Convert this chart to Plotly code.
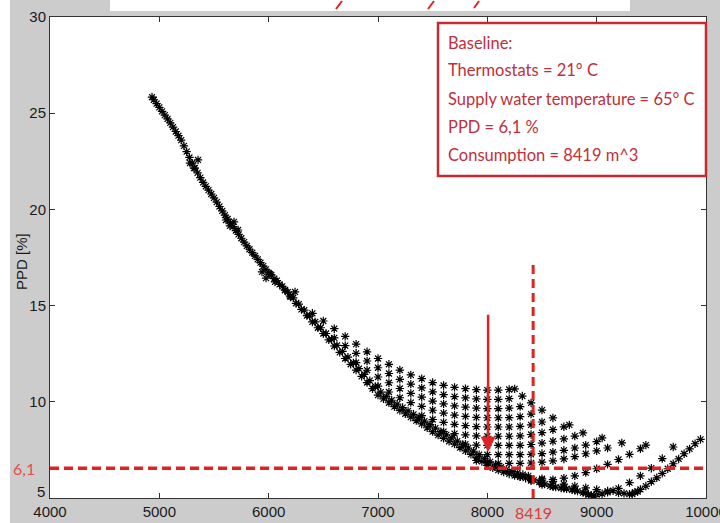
import plotly.graph_objects as go

# ---------------- data ----------------
band_x = [4933, 4950, 5000, 5050, 5100, 5150, 5200, 5250, 5300, 5350, 5400, 5450, 5500, 5550,
          5600, 5650, 5700, 5750, 5800, 5850, 5900, 5950, 6000, 6050, 6100, 6150, 6200, 6250,
          6300, 6350, 6400, 6450, 6500, 6550, 6600, 6650, 6700, 6750, 6800, 6850, 6900, 6950,
          7000, 7050, 7100, 7150, 7200, 7250, 7300, 7350, 7400, 7450, 7500, 7550, 7600, 7650,
          7700, 7750, 7800, 7850, 7900, 7950, 8000, 8050, 8100, 8150, 8200, 8250, 8300, 8350, 8400]
band_y = [25.84, 25.7, 25.3, 24.9, 24.5, 24.05, 23.6, 23.0, 22.4, 21.9, 21.4, 21.0, 20.6, 20.15,
          19.7, 19.3, 18.9, 18.5, 18.1, 17.75, 17.4, 17.05, 16.7, 16.4, 16.1, 15.8, 15.45, 15.12,
          14.8, 14.48, 14.15, 13.85, 13.55, 13.22, 12.9, 12.57, 12.25, 11.95, 11.65, 11.32, 11.0, 10.68,
          10.35, 10.15, 9.95, 9.75, 9.55, 9.38, 9.2, 9.02, 8.85, 8.65, 8.45, 8.27, 8.1, 7.95,
          7.8, 7.62, 7.45, 7.27, 7.1, 6.9, 6.7, 6.57, 6.45, 6.35, 6.25, 6.17, 6.1, 6.03, 5.97]

band2_x = [4975, 5025, 5075, 5125, 5175, 5225, 5275, 5325, 5375, 5425, 5475, 5525, 5575, 5625,
           5675, 5725, 5775, 5825, 5875, 5925, 5975, 6025, 6075, 6125, 6175, 6225, 6275, 6325,
           6375, 6425, 6475, 6525, 6575, 6625, 6675, 6725, 6775, 6825, 6875, 6925, 6975, 7025,
           7075, 7125, 7175, 7225, 7275, 7325, 7375, 7425, 7475, 7525, 7575, 7625, 7675, 7725,
           7775, 7825, 7875, 7925, 7975, 8025, 8075, 8125, 8175, 8225, 8275, 8325, 8375]
band2_y = [25.5, 25.1, 24.7, 24.28, 23.83, 23.3, 22.7, 22.15, 21.65, 21.2, 20.8, 20.38, 19.92, 19.5,
           19.1, 18.7, 18.3, 17.93, 17.58, 17.23, 16.88, 16.6, 16.3, 16.0, 15.7, 15.4, 15.08, 14.76,
           14.45, 14.15, 13.85, 13.55, 13.25, 12.93, 12.62, 12.32, 12.02, 11.72, 11.42, 11.1, 10.8, 10.5,
           10.28, 10.08, 9.88, 9.7, 9.53, 9.35, 9.18, 9.0, 8.81, 8.63, 8.45, 8.28, 8.12, 7.96,
           7.78, 7.6, 7.43, 7.25, 7.06, 6.88, 6.72, 6.6, 6.48, 6.38, 6.3, 6.22, 6.15]

jog_x = [5281, 5317, 5354, 5610, 5646, 5683, 5720, 5939, 5976, 6012, 6058, 6149, 6195, 6241]
jog_y = [22.41, 22.15, 22.57, 19.45, 19.14, 19.35, 18.93, 16.75, 16.43, 16.64, 16.23, 15.81, 15.5, 15.71]

row0_x = [6400, 6500, 6600, 6700, 6800, 6900, 7000, 7100, 7200, 7300, 7400, 7500, 7600, 7700, 7800,
          7900, 8000, 8100, 8200, 8250]
row0_y = [14.6, 14.2, 13.8, 13.4, 13.0, 12.6, 12.25, 11.95, 11.65, 11.4, 11.2, 11.0, 10.85, 10.75, 10.68,
          10.63, 10.61, 10.61, 10.64, 10.67]
row1_x = [6600, 6700, 6800, 6900, 7000, 7100, 7200, 7300, 7400, 7500, 7600, 7700, 7800, 7900, 8000,
          8100, 8200, 8320]
row1_y = [13.32, 12.92, 12.52, 12.12, 11.77, 11.47, 11.17, 10.92, 10.72, 10.52, 10.37, 10.27, 10.2, 10.15, 10.13,
          10.13, 10.16, 10.3]
row2_x = [6800, 6900, 7000, 7100, 7200, 7300, 7400, 7500, 7600, 7700, 7800, 7900, 8000, 8100, 8200,
          8300, 8400]
row2_y = [12.04, 11.64, 11.29, 10.99, 10.69, 10.44, 10.24, 10.04, 9.89, 9.79, 9.72, 9.67, 9.65, 9.65, 9.67,
          9.75, 9.94]
row3_x = [7000, 7100, 7200, 7300, 7400, 7500, 7600, 7700, 7800, 7900, 8000, 8100, 8200, 8300, 8400, 8500]
row3_y = [10.81, 10.51, 10.21, 9.96, 9.76, 9.56, 9.41, 9.31, 9.24, 9.19, 9.17, 9.17, 9.18, 9.23, 9.36, 9.57]
row4_x = [7400, 7500, 7600, 7700, 7800, 7900, 8000, 8100, 8200, 8300, 8400, 8500, 8600]
row4_y = [9.28, 9.08, 8.93, 8.83, 8.76, 8.71, 8.69, 8.69, 8.69, 8.72, 8.8, 8.95, 9.16]
row5_x = [7600, 7700, 7800, 7900, 8000, 8100, 8200, 8300, 8400, 8500, 8600, 8700, 8750]
row5_y = [8.45, 8.35, 8.28, 8.23, 8.21, 8.21, 8.21, 8.23, 8.3, 8.4, 8.55, 8.7, 8.8]
row6_x = [7800, 7900, 8000, 8100, 8200, 8300, 8400, 8500, 8600, 8700, 8800, 8875]
row6_y = [7.8, 7.75, 7.73, 7.73, 7.73, 7.74, 7.78, 7.85, 7.95, 8.07, 8.22, 8.38]
row7_x = [8000, 8100, 8200, 8300, 8400, 8500, 8600, 8700, 8800, 8900, 9000, 9050]
row7_y = [7.25, 7.25, 7.25, 7.25, 7.27, 7.31, 7.38, 7.48, 7.6, 7.75, 7.93, 8.12]
row8_x = [7900, 8000, 8100, 8200, 8300, 8400, 8500, 8600, 8700, 8800, 8900, 9000, 9100, 9230]
row8_y = [6.95, 6.85, 6.8, 6.8, 6.8, 6.82, 6.86, 6.93, 7.03, 7.15, 7.3, 7.45, 7.6, 7.86]
row9_x = [8300, 8400, 8500, 8600, 8700, 8800, 8900, 9000, 9100, 9200, 9300, 9400, 9450]
row9_y = [6.1, 5.97, 5.93, 5.95, 6.03, 6.15, 6.32, 6.52, 6.75, 7.0, 7.27, 7.56, 7.75]
row10_x = [8400, 8500, 8600, 8700, 8800, 8900, 8950, 9000, 9100, 9200, 9300, 9400, 9500, 9600, 9700]
row10_y = [5.9, 5.7, 5.58, 5.5, 5.4, 5.25, 5.15, 5.18, 5.3, 5.5, 5.8, 6.15, 6.55, 7.05, 7.65]
row11_x = [8500, 8600, 8700, 8800, 8900, 9000, 9100, 9200, 9300, 9350, 9400, 9500, 9600, 9700, 9800,
           9900, 9950]
row11_y = [6.0, 5.85, 5.72, 5.62, 5.53, 5.44, 5.36, 5.27, 5.2, 5.3, 5.45, 5.85, 6.28, 6.78, 7.3,
           7.82, 8.05]
low_x = [8425, 8475, 8525, 8575, 8625, 8675, 8725, 8775, 8825, 8875, 8925, 8975, 9050, 9150,
         9250, 9325, 9375, 9450, 9550, 9650, 9750, 9850]
low_y = [5.93, 5.83, 5.72, 5.63, 5.57, 5.52, 5.48, 5.43, 5.36, 5.28, 5.18, 5.12, 5.22, 5.38,
         5.24, 5.2, 5.33, 5.62, 6.05, 6.52, 7.03, 7.55]

x_ticks = [4000, 5000, 6000, 7000, 8000, 9000, 10000]
y_ticks = [5, 10, 15, 20, 25, 30]

baseline_consumption = 8419
baseline_consumption_label = "8419"
baseline_ppd_level = 6.55          # where the dashed line sits in the picture
baseline_ppd_label = "6,1"
vline_top = 17.3
arrow_x = 8007
arrow_from = 14.6
arrow_to = 7.4

info_lines = ["Baseline:",
              "Thermostats = 21° C",
              "Supply water temperature = 65° C",
              "PPD = 6,1 %",
              "Consumption = 8419 m^3"]

# ---------------- figure ----------------
RED = "#e02222"
BOXRED = "#c62a30"
TICKFONT = "Liberation Sans, Arial, sans-serif"
BOXFONT = "Lato, sans-serif"

all_x, all_y = [], []
for xs, ys in [(band_x, band_y), (band2_x, band2_y), (jog_x, jog_y),
               (row0_x, row0_y), (row1_x, row1_y), (row2_x, row2_y), (row3_x, row3_y),
               (row4_x, row4_y), (row5_x, row5_y), (row6_x, row6_y), (row7_x, row7_y),
               (row8_x, row8_y), (row9_x, row9_y), (row10_x, row10_y), (row11_x, row11_y),
               (low_x, low_y)]:
    all_x += xs
    all_y += ys

fig = go.Figure()
fig.add_trace(go.Scatter(
    x=all_x, y=all_y, mode="markers",
    marker=dict(symbol="asterisk-open", size=7, color="black",
                line=dict(width=1.2, color="black")),
    showlegend=False, hoverinfo="skip", cliponaxis=True))

W, H = 720, 523
L, R, T, B = 50, 14, 17, 25
pw, ph = W - L - R, H - T - B

def px_x(px):
    return (px - L) / pw

def px_y(py):
    return (H - B - py) / ph

axis_common = dict(ticks="inside", ticklen=5, tickcolor="#333", showline=True, linecolor="#333",
                   linewidth=1, mirror="ticks", showgrid=False, zeroline=False,
                   automargin=False, ticklabeloverflow="allow",
                   tickfont=dict(family=TICKFONT, size=15, color="#1a1a1a"))

# the lowest y label sits a little higher in the picture: drawn separately below
y_ticktext = ["" if v == y_ticks[0] else str(v) for v in y_ticks]

fig.update_layout(
    width=W, height=H,
    margin=dict(l=L, r=R, t=T, b=B, pad=0, autoexpand=False),
    paper_bgcolor="#cccccc", plot_bgcolor="white",
    font=dict(family=TICKFONT, size=15, color="#1a1a1a"),
    xaxis=dict(range=[4000, 10000], tickvals=x_ticks, ticktext=[str(v) for v in x_ticks],
               **axis_common),
    yaxis=dict(range=[5, 30], tickvals=y_ticks, ticktext=y_ticktext, **axis_common),
)

shapes = []
# white slide margins around the grey figure
shapes.append(dict(type="rect", xref="paper", yref="paper", layer="below",
                   x0=px_x(0), x1=px_x(10), y0=px_y(H), y1=px_y(0),
                   fillcolor="white", line=dict(width=0)))
shapes.append(dict(type="rect", xref="paper", yref="paper", layer="below",
                   x0=px_x(110), x1=px_x(630), y0=px_y(11), y1=px_y(0),
                   fillcolor="white", line=dict(width=0)))
# fragments of the slide title cut by the top edge
for (xa, ya, xb, yb) in [(336, 9, 342, 1), (428, 9, 434, 1), (474, 8, 479, 1)]:
    shapes.append(dict(type="line", xref="paper", yref="paper",
                       x0=px_x(xa), y0=px_y(ya), x1=px_x(xb), y1=px_y(yb),
                       line=dict(color=RED, width=2)))
# dashed reference lines
shapes.append(dict(type="line", xref="x", yref="y", x0=4000, x1=10000,
                   y0=baseline_ppd_level, y1=baseline_ppd_level,
                   line=dict(color=RED, width=3.5, dash="9px,5px")))
shapes.append(dict(type="line", xref="x", yref="y", x0=baseline_consumption,
                   x1=baseline_consumption, y0=5, y1=vline_top,
                   line=dict(color=RED, width=3, dash="9px,5px")))
# info box
shapes.append(dict(type="rect", xref="paper", yref="paper",
                   x0=px_x(438), x1=px_x(706), y0=px_y(176), y1=px_y(23),
                   fillcolor="white", line=dict(color=BOXRED, width=2.5)))
fig.update_layout(shapes=shapes)

ann = []
line_px = [43, 70, 99, 127, 155]
for txt, py in zip(info_lines, line_px):
    ann.append(dict(xref="paper", yref="paper", x=px_x(446), y=px_y(py),
                    xanchor="left", yanchor="middle", showarrow=False, text=txt,
                    font=dict(family=BOXFONT, size=16.5, color="#c0303a")))
ann.append(dict(xref="x", yref="y", x=arrow_x, y=arrow_to, ax=arrow_x, ay=arrow_from,
                axref="x", ayref="y", showarrow=True, arrowhead=2, arrowsize=1.2,
                arrowwidth=2.5, arrowcolor=RED, text=""))
ann.append(dict(xref="x", yref="paper", x=baseline_consumption, y=px_y(512),
                xanchor="center", yanchor="middle", showarrow=False,
                text=baseline_consumption_label,
                font=dict(family=BOXFONT, size=16, color="#e03a3a")))
ann.append(dict(xref="paper", yref="y", x=px_x(24), y=baseline_ppd_level,
                xanchor="center", yanchor="middle", showarrow=False,
                text=baseline_ppd_label,
                font=dict(family=BOXFONT, size=16, color="#e05050")))
ann.append(dict(xref="paper", yref="paper", x=px_x(47), y=px_y(491),
                xanchor="right", yanchor="middle", showarrow=False,
                text=str(y_ticks[0]),
                font=dict(family=TICKFONT, size=15, color="#1a1a1a")))
ann.append(dict(xref="paper", yref="paper", x=px_x(21), y=px_y(262),
                xanchor="center", yanchor="middle", showarrow=False, textangle=-90,
                text="PPD [%]", font=dict(family=TICKFONT, size=15, color="#1a1a1a")))
fig.update_layout(annotations=ann)

fig.write_html("out.html")
